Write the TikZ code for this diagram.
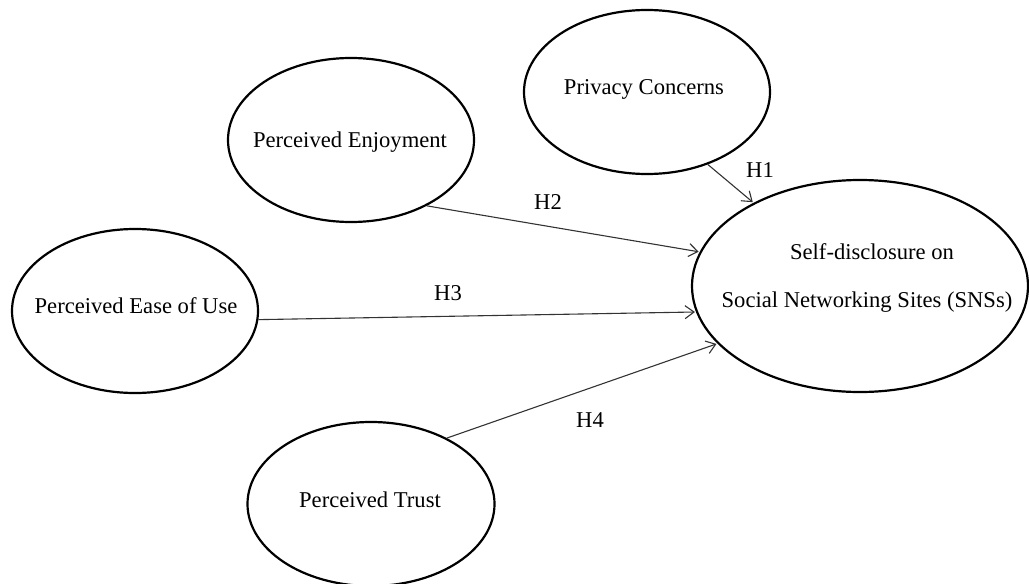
\documentclass[tikz,border=0pt]{standalone}
\usepackage{fontspec}
\setmainfont{Liberation Serif}
\usetikzlibrary{shapes.geometric,arrows.meta}
\tikzset{
  ell/.style={draw=black, line width=2.2pt, ellipse, inner sep=0pt},
  txt/.style={anchor=base, inner sep=0pt, font=\fontsize{22.6}{27}\selectfont},
  hyp/.style={anchor=base, inner sep=0pt, font=\fontsize{22.6}{27}\selectfont},
  link/.style={draw=black!80, line width=1.1pt, -{Straight Barb[length=9pt,width=13pt,line width=1.1pt]}, shorten >=1pt}
}
\begin{document}
\begin{tikzpicture}[x=1pt,y=-1pt]
\useasboundingbox (0,0) rectangle (1029,584);
% ellipses
\node[ell, minimum width=246pt, minimum height=164pt] (pc) at (647,92) {};
\node[ell, minimum width=246pt, minimum height=164pt] (pe) at (351,140) {};
\node[ell, minimum width=246pt, minimum height=164pt] (pu) at (135,311) {};
\node[ell, minimum width=247pt, minimum height=164pt] (pt) at (371,504) {};
\node[ell, minimum width=336pt, minimum height=212pt] (sd) at (860,286) {};
% texts
\node[txt] (tpc) at (644,94) {Privacy Concerns};
\node[txt] (tpe) at (350,147) {Perceived Enjoyment};
\node[txt] (tpu) at (136,313) {Perceived Ease of Use};
\node[txt] (tpt) at (370,507) {Perceived Trust};
\node[txt] (tsd1) at (872,259) {Self-disclosure on};
\node[txt] (tsd2) at (867,307) {Social Networking Sites (SNSs)};
% connectors
\draw[link] (pc.-50) -- (sd.142);
\draw[link] (pe.-41) -- (sd.168.5);
\draw[link] (pu.-4) -- (sd.-171);
\draw[link] (pt.41) -- (sd.-158.5);
% hypothesis labels
\node[hyp] (h1) at (760,177) {H1};
\node[hyp] (h2) at (548,209) {H2};
\node[hyp] (h3) at (448,300) {H3};
\node[hyp] (h4) at (590,427) {H4};
\end{tikzpicture}
\end{document}
